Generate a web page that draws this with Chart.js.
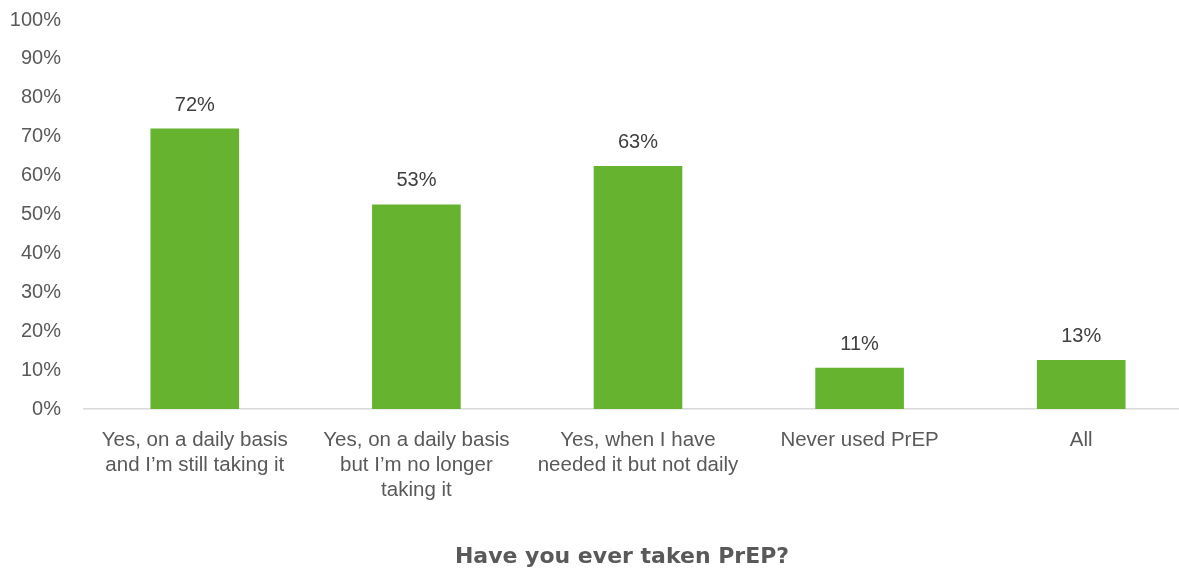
<!DOCTYPE html>
<html>
<head>
<meta charset="utf-8">
<script src="https://cdn.jsdelivr.net/npm/chart.js@4.4.1/dist/chart.umd.min.js"></script>
<style>
  html, body { margin: 0; padding: 0; background: #fff; overflow: hidden; }
  #wrap { width: 1179px; height: 570px; overflow: hidden; }
  #grafico { display: block; }
</style>
</head>
<body>
<div id="wrap"><canvas id="grafico" width="1192" height="570"></canvas></div>
<script>
const categorias = [
    ["Yes, on a daily basis", "and I\u2019m still taking it"],
    ["Yes, on a daily basis", "but I\u2019m no longer", "taking it"],
    ["Yes, when I have", "needed it but not daily"],
    "Never used PrEP",
    "All"
];
const valores = [72.1, 52.6, 62.5, 10.6, 12.6];
const ticksY = [0, 10, 20, 30, 40, 50, 60, 70, 80, 90, 100];
const tituloX = "Have you ever taken PrEP?";

const FUENTE = "'Liberation Sans', Arial, sans-serif";
const FUENTE_TITULO = "'DejaVu Sans', Verdana, sans-serif";

// etiquetas encima de cada barra + titulo del eje x (no hay plugin datalabels)
const etiquetasBarras = {
    id: 'etiquetasBarras',
    afterDatasetsDraw(chart) {
        const ctx = chart.ctx;
        const meta = chart.getDatasetMeta(0);
        ctx.save();
        ctx.font = "20px " + FUENTE;
        ctx.fillStyle = '#404040';
        ctx.textAlign = 'center';
        ctx.textBaseline = 'alphabetic';
        meta.data.forEach((barra, i) => {
            ctx.fillText(Math.round(valores[i]) + '%', barra.x, barra.y - 18);
        });

        // titulo un poco a la izquierda del centro del area
        const area = chart.chartArea;
        ctx.font = "bold 22px " + FUENTE_TITULO;
        ctx.fillStyle = '#595959';
        ctx.textBaseline = 'middle';
        ctx.fillText(tituloX, (area.left + area.right) / 2 - 16, 557);
        ctx.restore();
    }
};

const ctx = document.getElementById('grafico').getContext('2d');
new Chart(ctx, {
    type: 'bar',
    data: {
        labels: categorias,
        datasets: [{
            data: valores,
            backgroundColor: '#66B32F',
            borderWidth: 0,
            categoryPercentage: 1.0,
            barPercentage: 0.4
        }]
    },
    options: {
        responsive: false,
        animation: false,
        layout: { padding: { top: 20, left: 0, right: 0, bottom: 0 } },
        plugins: {
            legend: { display: false },
            tooltip: { enabled: false }
        },
        scales: {
            x: {
                grid: { display: false, drawTicks: false },
                border: { display: true, color: '#d9d9d9', width: 1.5 },
                ticks: {
                    color: '#595959',
                    font: { family: FUENTE, size: 20.5, lineHeight: 1.22 },
                    padding: 19,
                    maxRotation: 0,
                    autoSkip: false
                },
                afterFit(scale) {
                    scale.height = 161;
                    scale.paddingTop = 0;
                    scale.paddingBottom = 0;
                }
            },
            y: {
                min: 0,
                max: 100,
                grid: { display: false, drawTicks: false },
                border: { display: false },
                afterBuildTicks(scale) {
                    scale.ticks = ticksY.map(v => ({ value: v }));
                },
                ticks: {
                    color: '#595959',
                    font: { family: FUENTE, size: 20 },
                    padding: 23,
                    callback: v => v + '%'
                },
                afterFit(scale) {
                    scale.width = 84;
                    scale.paddingTop = 0;
                    scale.paddingBottom = 0;
                }
            }
        }
    },
    plugins: [etiquetasBarras]
});
</script>
</body>
</html>
